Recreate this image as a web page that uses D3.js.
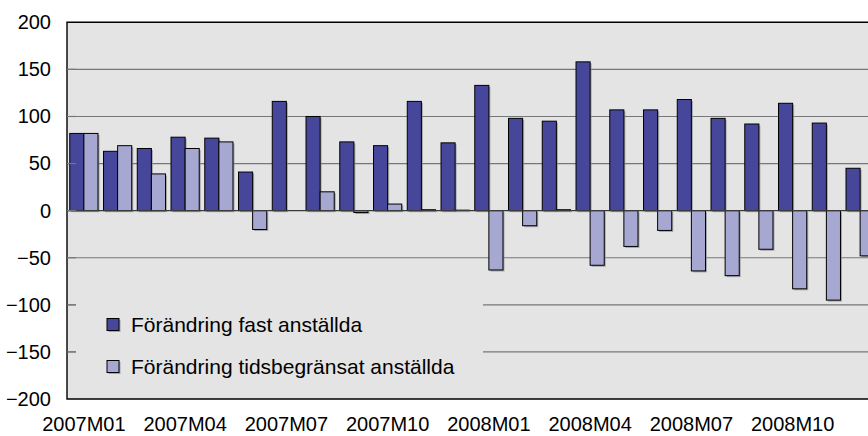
<!DOCTYPE html>
<html>
<head>
<meta charset="utf-8">
<script src="https://cdn.jsdelivr.net/npm/d3@7"></script>
<style>
  html, body { margin: 0; padding: 0; background: #ffffff; }
  svg { display: block; overflow: hidden; }
  text { font-family: "Liberation Sans", Arial, sans-serif; fill: #000; }
</style>
</head>
<body>
<svg id="chart" width="868" height="436"></svg>
<script>
// Monthly change in employees, 2007–2008
const months = [
  "2007M01","2007M02","2007M03","2007M04","2007M05","2007M06",
  "2007M07","2007M08","2007M09","2007M10","2007M11","2007M12",
  "2008M01","2008M02","2008M03","2008M04","2008M05","2008M06",
  "2008M07","2008M08","2008M09","2008M10","2008M11","2008M12"
];
const seriesNames = ["Förändring fast anställda", "Förändring tidsbegränsat anställda"];
const fastValues = [82, 63, 66, 78, 77, 41, 116, 100, 73, 69, 116, 72,
                    133, 98, 95, 158, 107, 107, 118, 98, 92, 114, 93, 45];
const tidsValues = [82, 69, 39, 66, 73, -20, 0, 20, -2, 7, 1, 0.5,
                    -63, -16, 1, -58, -38, -21, -64, -69, -41, -83, -95, -48];
const yTicks = [-200, -150, -100, -50, 0, 50, 100, 150, 200];
const xTickLabels = months.filter((m, i) => i % 3 === 0);

const colors = ["#46479a", "#a6a8d2"];
const FONT = "Liberation Sans, Arial, sans-serif";

const svg = d3.select("#chart");
const plotLeft = 67, plotTop = 22.3, plotBottom = 399, plotRight = 877;

const x = d3.scaleBand().domain(months).range([plotLeft, plotRight])
  .paddingInner(0.164).paddingOuter(0.082);
const xs = d3.scaleBand().domain(seriesNames).range([0, x.bandwidth()]);
const y = d3.scaleLinear().domain([-200, 200]).range([plotBottom, plotTop]);

// plot background
svg.append("rect")
  .attr("x", plotLeft).attr("y", plotTop)
  .attr("width", plotRight - plotLeft).attr("height", plotBottom - plotTop)
  .attr("fill", "#e4e4e4");

// gridlines
svg.append("g").selectAll("line")
  .data(yTicks.filter(v => v !== 0 && v !== 200 && v !== -200))
  .join("line")
  .attr("x1", plotLeft).attr("x2", plotRight)
  .attr("y1", d => y(d)).attr("y2", d => y(d))
  .attr("stroke", "#777777").attr("stroke-width", 1.2);

// legend background hides the gridlines behind it
svg.append("rect")
  .attr("x", plotLeft + 9).attr("y", 285)
  .attr("width", 483 - plotLeft - 9).attr("height", 110)
  .attr("fill", "#e4e4e4");

// bars
const data = months.map((m, i) => ({ month: m, values: [fastValues[i], tidsValues[i]] }));
const groups = svg.append("g").selectAll("g")
  .data(data).join("g")
  .attr("transform", d => `translate(${x(d.month)},0)`);

const cells = groups.selectAll("g")
  .data(d => d.values.map((v, k) => ({ name: seriesNames[k], value: v, k })))
  .join("g");

// soft shadow under each bar
cells.append("rect")
  .attr("x", d => xs(d.name) + 1.5)
  .attr("y", d => Math.min(y(d.value), y(0)) + 1.5)
  .attr("width", xs.bandwidth())
  .attr("height", d => Math.abs(y(d.value) - y(0)))
  .attr("fill", "#8a8a8a").attr("opacity", 0.7);

cells.append("rect")
  .attr("x", d => xs(d.name))
  .attr("y", d => Math.min(y(d.value), y(0)))
  .attr("width", xs.bandwidth())
  .attr("height", d => Math.abs(y(d.value) - y(0)))
  .attr("fill", d => colors[d.k])
  .attr("stroke", "#000").attr("stroke-width", 1);

// zero line
svg.append("line")
  .attr("x1", plotLeft).attr("x2", plotRight)
  .attr("y1", y(0)).attr("y2", y(0))
  .attr("stroke", "#3a3a3a").attr("stroke-width", 1.3);

// plot frame (top, left, bottom)
svg.append("path")
  .attr("d", `M${plotRight},${plotTop}H${plotLeft}V${plotBottom}H${plotRight}`)
  .attr("fill", "none").attr("stroke", "#000").attr("stroke-width", 1.4);

// y axis labels
const yAxis = d3.axisLeft(y).tickValues(yTicks).tickSize(0).tickPadding(16);
const yg = svg.append("g").attr("transform", `translate(${plotLeft},0)`).call(yAxis);
yg.select(".domain").remove();
yg.selectAll("text").attr("font-size", 20).attr("font-family", FONT).attr("fill", "#000");

// short inside ticks on the left edge
svg.append("g").selectAll("line")
  .data(yTicks.filter(v => v !== 200 && v !== -200))
  .join("line")
  .attr("x1", plotLeft).attr("x2", plotLeft + 9)
  .attr("y1", d => y(d)).attr("y2", d => y(d))
  .attr("stroke", "#777777").attr("stroke-width", 1.2);

// x axis labels
const xAxis = d3.axisBottom(x).tickValues(xTickLabels).tickSize(0).tickPadding(18);
const xg = svg.append("g").attr("transform", `translate(0,${plotBottom})`).call(xAxis);
xg.select(".domain").remove();
xg.selectAll("text").attr("font-size", 20).attr("font-family", FONT).attr("fill", "#000");

// legend
const legend = svg.append("g");
const items = legend.selectAll("g").data(seriesNames).join("g")
  .attr("transform", (d, i) => `translate(107,${318.5 + i * 42})`);
items.append("rect").attr("x", 1.5).attr("y", 1.5).attr("width", 12).attr("height", 12)
  .attr("fill", "#8a8a8a").attr("opacity", 0.7);
items.append("rect").attr("width", 12).attr("height", 12)
  .attr("fill", (d, i) => colors[i]).attr("stroke", "#000").attr("stroke-width", 1);
items.append("text").attr("x", 24).attr("y", 13.3)
  .attr("font-size", 21).attr("font-family", FONT).text(d => d);
</script>
</body>
</html>
